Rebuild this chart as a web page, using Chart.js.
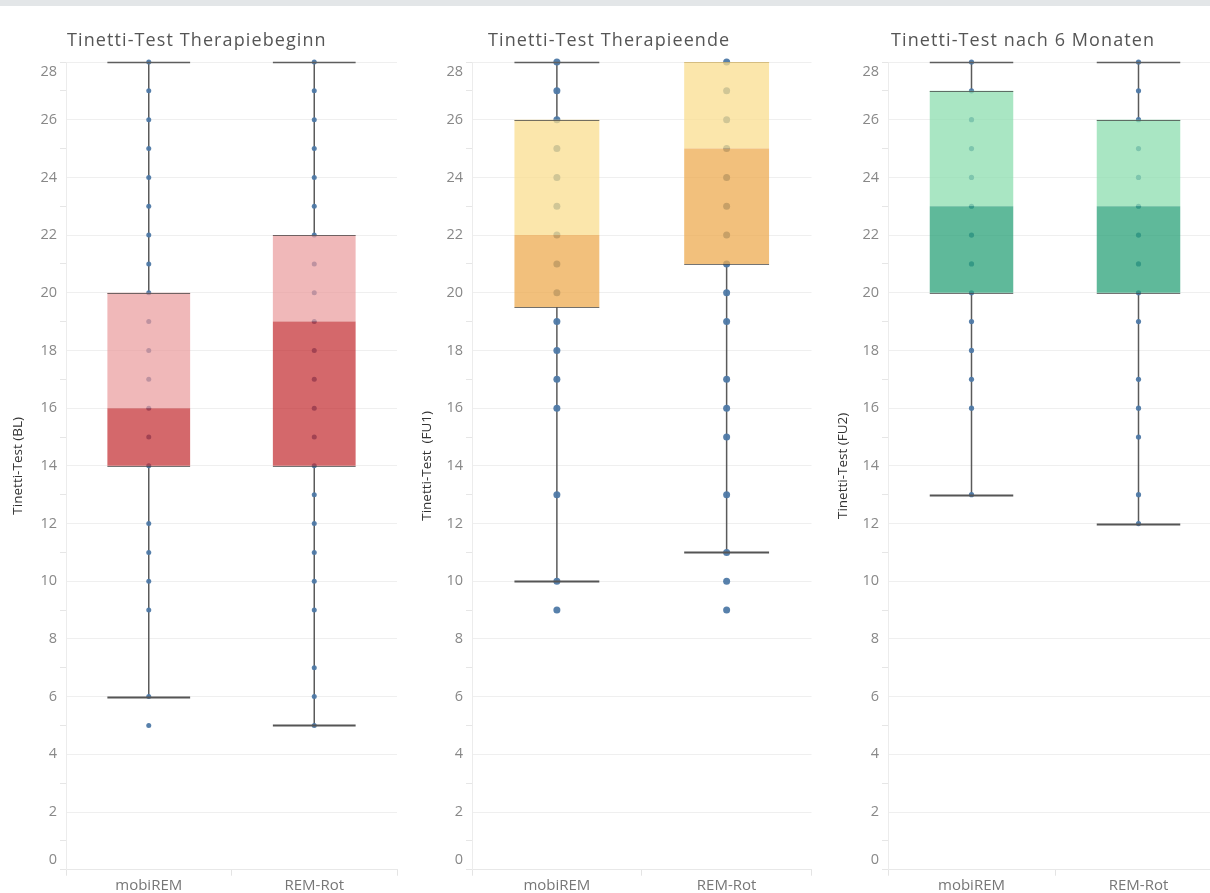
<!DOCTYPE html>
<html>
<head>
<meta charset="utf-8">
<title>Tinetti-Test</title>
<script src="https://cdn.jsdelivr.net/npm/chart.js@4"></script>
<style>
  html, body { margin: 0; padding: 0; width: 1210px; height: 893px; overflow: hidden; background: #fff; }
  body { position: relative; font-family: 'Open Sans', sans-serif; }
  canvas { position: absolute; top: 0; }
  .topbar { position: absolute; left: 0; top: 0; width: 1210px; height: 6px; background: #e3e6e8; z-index: 2; }
  .title { position: absolute; top: 27px; font-size: 18px; letter-spacing: 1.1px; color: #555; white-space: nowrap; }
</style>
</head>
<body>
<canvas id="bl" width="400" height="893" style="left:0px"></canvas>
<canvas id="fu1" width="406" height="893" style="left:409px"></canvas>
<canvas id="fu2" width="400" height="893" style="left:825px"></canvas>
<div class="topbar"></div>
<div class="title" style="left:67px">Tinetti-Test Therapiebeginn</div>
<div class="title" style="left:488px">Tinetti-Test Therapieende</div>
<div class="title" style="left:891px">Tinetti-Test nach 6 Monaten</div>
<script>
// Groups on the x axis
const categories = ['mobiREM', 'REM-Rot'];

// y axis: gridlines at every point, labels on the even ones
const yGridValues = [0, 1, 2, 3, 4, 5, 6, 7, 8, 9, 10, 11, 12, 13, 14, 15, 16, 17, 18, 19, 20, 21, 22, 23, 24, 25, 26, 27, 28];
const yLabelValues = [0, 2, 4, 6, 8, 10, 12, 14, 16, 18, 20, 22, 24, 26, 28];

const axisTitles = ['Tinetti-Test (BL)', 'Tinetti-Test  (FU1)', 'Tinetti-Test (FU2)'];

// Baseline (BL): whisker ends, quartiles, median per group
const blLow = [6, 5];
const blQ1 = [14, 14];
const blMedian = [16, 19];
const blQ3 = [20, 22];
const blHigh = [28, 28];
const blScoresMobi = [5, 6, 9, 10, 11, 12, 14, 15, 16, 17, 18, 19, 20, 21, 22, 23, 24, 25, 26, 27, 28];
const blScoresRem = [5, 6, 7, 9, 10, 11, 12, 13, 14, 15, 16, 17, 18, 19, 20, 21, 22, 23, 24, 25, 26, 27, 28];

// End of therapy (FU1)
const fu1Low = [10, 11];
const fu1Q1 = [19.5, 21];
const fu1Median = [22, 25];
const fu1Q3 = [26, 28];
const fu1High = [28, 28];
const fu1ScoresMobi = [9, 10, 13, 16, 17, 18, 19, 20, 21, 22, 23, 24, 25, 26, 27, 28];
const fu1ScoresRem = [9, 10, 11, 13, 15, 16, 17, 19, 20, 21, 22, 23, 24, 25, 26, 27, 28];

// After 6 months (FU2)
const fu2Low = [13, 12];
const fu2Q1 = [20, 20];
const fu2Median = [23, 23];
const fu2Q3 = [27, 26];
const fu2High = [28, 28];
const fu2ScoresMobi = [13, 16, 17, 18, 19, 20, 21, 22, 23, 24, 25, 26, 27, 28];
const fu2ScoresRem = [12, 13, 15, 16, 17, 19, 20, 21, 22, 23, 24, 25, 26, 27, 28];

// Whiskers, caps and box edges, drawn from the scales and the bar elements
const boxWhiskers = {
  id: 'boxWhiskers',
  beforeDatasetsDraw(chart, args, opts) {
    const { ctx, scales: { y } } = chart;
    const bars = chart.getDatasetMeta(0).data;
    ctx.save();
    ctx.strokeStyle = '#5a5a5a';
    ctx.lineWidth = 1.5;
    bars.forEach((bar, i) => {
      const x = bar.x;
      const seg = (a, b) => {
        if (b <= a) return;
        ctx.beginPath();
        ctx.moveTo(x, y.getPixelForValue(a));
        ctx.lineTo(x, y.getPixelForValue(b));
        ctx.stroke();
      };
      seg(opts.low[i], opts.q1[i]);
      seg(opts.q3[i], opts.high[i]);
    });
    ctx.restore();
  },
  afterDatasetsDraw(chart, args, opts) {
    const { ctx, scales: { y } } = chart;
    const bars = chart.getDatasetMeta(0).data;
    ctx.save();
    const hline = (bar, v, w, color) => {
      const py = Math.round(y.getPixelForValue(v)) + 0.5;
      ctx.strokeStyle = color;
      ctx.lineWidth = w;
      ctx.beginPath();
      ctx.moveTo(bar.x - bar.width / 2, py);
      ctx.lineTo(bar.x + bar.width / 2, py);
      ctx.stroke();
    };
    bars.forEach((bar, i) => {
      hline(bar, opts.q1[i], 1, 'rgba(70,70,70,0.75)');
      if (opts.high[i] > opts.q3[i]) {
        hline(bar, opts.q3[i], 1, 'rgba(70,70,70,0.75)');
        hline(bar, opts.high[i], 1.6, '#5e5e5e');
      } else {
        hline(bar, opts.q3[i], 1, 'rgba(150,120,60,0.35)');
      }
      if (opts.low[i] < opts.q1[i]) hline(bar, opts.low[i], 2, '#555');
    });
    ctx.restore();
  }
};

function pointsFor(groups) {
  const out = [];
  groups.forEach((vals, i) => vals.forEach(v => out.push({ x: categories[i], y: v })));
  return out;
}

function drawPanel(id, idx, stats, scores, colors, pointRadius, yWidth, padRight) {
  const [low, q1, median, q3, high] = stats;
  new Chart(document.getElementById(id), {
    type: 'bar',
    data: {
      labels: categories,
      datasets: [
        {
          data: categories.map((c, i) => [q1[i], median[i]]),
          backgroundColor: colors[0],
          grouped: false, order: 0,
          barPercentage: 0.5, categoryPercentage: 1.0, borderWidth: 0
        },
        {
          data: categories.map((c, i) => [median[i], q3[i]]),
          backgroundColor: colors[1],
          grouped: false, order: 0,
          barPercentage: 0.5, categoryPercentage: 1.0, borderWidth: 0
        },
        {
          type: 'line',
          data: pointsFor(scores),
          showLine: false,
          pointRadius: pointRadius,
          pointHoverRadius: pointRadius,
          pointBackgroundColor: 'rgba(78,121,167,0.95)',
          pointBorderWidth: 0,
          clip: false,
          order: 1
        }
      ]
    },
    options: {
      responsive: false,
      animation: false,
      events: [],
      layout: { padding: { top: 62, bottom: 0, left: 0, right: padRight } },
      plugins: {
        legend: { display: false },
        tooltip: { enabled: false },
        boxWhiskers: { low, q1, q3, high }
      },
      scales: {
        x: {
          grid: { display: true, drawOnChartArea: false, tickLength: 6, color: '#e4e4e4', offset: true },
          border: { color: '#e8e8e8' },
          ticks: { color: '#777', padding: 1, font: { family: 'Open Sans', size: 15 } },
          afterFit(scale) { scale.height = 23; }
        },
        y: {
          min: 0, max: 28,
          afterBuildTicks(scale) { scale.ticks = yGridValues.map(v => ({ value: v })); },
          afterFit(scale) { scale.width = yWidth; },
          grid: {
            tickLength: 6,
            color: ctx => (ctx.tick && ctx.tick.value % 2 === 0) ? '#efefef' : 'rgba(0,0,0,0)',
            tickColor: ctx => {
              const v = ctx.tick ? ctx.tick.value : 1;
              return (v % 2 === 1 || v === 0 || v === 28) ? '#e6e6e6' : 'rgba(0,0,0,0)';
            }
          },
          border: { color: '#ececec' },
          ticks: {
            autoSkip: false,
            padding: 3,
            color: '#888',
            font: { family: 'Open Sans', size: 14.5, lineHeight: 1.4 },
            callback(value) {
              if (!yLabelValues.includes(value)) return '';
              if (value === yLabelValues[yLabelValues.length - 1]) return ['', String(value)];
              if (value === yLabelValues[0]) return [String(value), ''];
              return String(value);
            }
          },
          title: {
            display: true,
            text: axisTitles[idx],
            color: '#333',
            font: { family: 'Open Sans', size: 13.5 },
            padding: { top: 10, bottom: 0 }
          }
        }
      }
    },
    plugins: [boxWhiskers]
  });
}

drawPanel('bl', 0, [blLow, blQ1, blMedian, blQ3, blHigh], [blScoresMobi, blScoresRem],
  ['rgba(194,40,44,0.7)', 'rgba(234,154,155,0.7)'], 2.5, 66, 3);
drawPanel('fu1', 1, [fu1Low, fu1Q1, fu1Median, fu1Q3, fu1High], [fu1ScoresMobi, fu1ScoresRem],
  ['rgba(238,171,80,0.75)', 'rgba(250,222,143,0.75)'], 3.5, 63, 2);
drawPanel('fu2', 2, [fu2Low, fu2Q1, fu2Median, fu2Q3, fu2High], [fu2ScoresMobi, fu2ScoresRem],
  ['rgba(42,162,120,0.75)', 'rgba(140,222,175,0.75)'], 2.6, 63, 3);
</script>
</body>
</html>
